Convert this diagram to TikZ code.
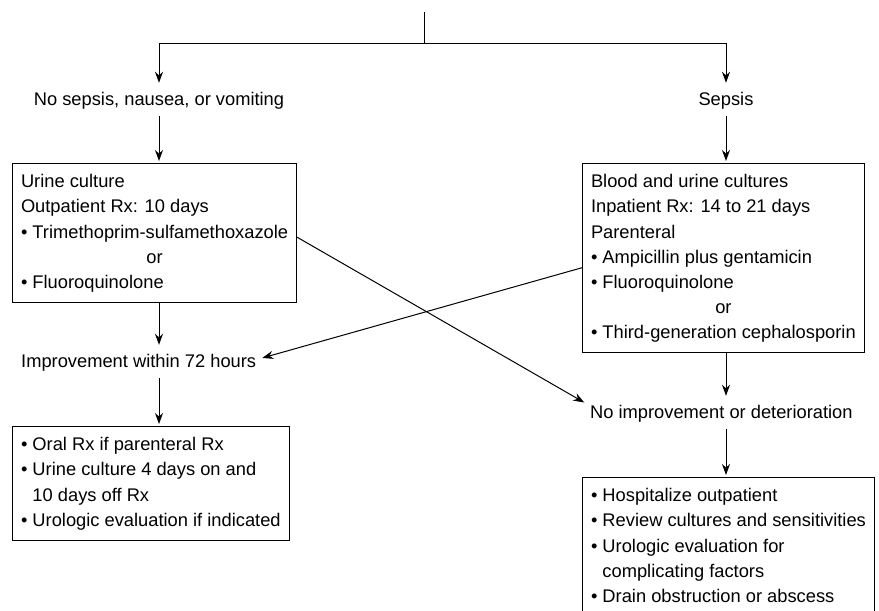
\documentclass[tikz,border=0pt]{standalone}
\usepackage{fontspec}
\setmainfont{Liberation Sans}
\usepackage{tikz}
\usetikzlibrary{positioning}
\usetikzlibrary{calc,arrows.meta}

\newcommand{\bul}{\textbullet\ }
\newcommand{\hang}{\phantom{\textbullet\ }}

\begin{document}
\begin{tikzpicture}[x=1pt,y=-1pt,
    every node/.style={font=\fontsize{18.3}{25.2}\selectfont},
    lbl/.style={inner xsep=4pt,inner ysep=7pt,text height=13pt,text depth=4pt},
    box/.style={draw,line width=1pt,inner xsep=8.5pt,inner ysep=6.5pt},
    arr/.style={-{Stealth[length=11pt,width=8pt]},line width=1pt,shorten >=2pt}]

  \useasboundingbox (0,0) rectangle (879,611);
  \clip (0,0) rectangle (879,611);

  \coordinate (top) at (424,12);
  \coordinate (split) at (424,43);

  \node[lbl,anchor=base] (nosep) at (159,105) {No sepsis, nausea, or vomiting};
  \node[lbl,anchor=base] (sepsis) at (726,105) {Sepsis};

  \node[box,anchor=north west] (outpt) at (12,163) {\begin{tabular}{@{}l@{}}
      Urine culture\\
      Outpatient Rx: 10 days\\
      \bul Trimethoprim-sulfamethoxazole\\
      \multicolumn{1}{@{}c@{}}{or}\\
      \bul Fluoroquinolone
    \end{tabular}};
  \node[box,anchor=north west] (inpt) at (582,163) {\begin{tabular}{@{}l@{}}
      Blood and urine cultures\\
      Inpatient Rx: 14 to 21 days\\
      Parenteral\\
      \bul Ampicillin plus gentamicin\\
      \bul Fluoroquinolone\\
      \multicolumn{1}{@{}c@{}}{or}\\
      \bul Third-generation cephalosporin
    \end{tabular}};

  \node[lbl,anchor=base west] (impr) at (17,367) {Improvement within 72 hours};
  \node[lbl,anchor=base west] (nimp) at (586,418) {No improvement or deterioration};

  \node[box,anchor=north west] (follow) at (12,426) {\begin{tabular}{@{}l@{}}
      \bul Oral Rx if parenteral Rx\\
      \bul Urine culture 4 days on and\\
      \hang 10 days off Rx\\
      \bul Urologic evaluation if indicated
    \end{tabular}};
  \node[box,anchor=north west] (hosp) at (582,477) {\begin{tabular}{@{}l@{}}
      \bul Hospitalize outpatient\\
      \bul Review cultures and sensitivities\\
      \bul Urologic evaluation for\\
      \hang complicating factors\\
      \bul Drain obstruction or abscess
    \end{tabular}};

  \draw[line width=1pt] (top) -- (split);
  \draw[arr] (split) -| (nosep.north);
  \draw[arr] (split) -| (sepsis.north);
  \draw[arr] (nosep.south) -- (nosep.south |- outpt.north);
  \draw[arr] (sepsis.south) -- (sepsis.south |- inpt.north);
  \draw[arr] (outpt.south -| nosep.south) -- (nosep.south |- impr.north);
  \draw[arr] (impr.south -| nosep.south) -- (nosep.south |- follow.north);
  \draw[arr] (inpt.south -| sepsis.south) -- (sepsis.south |- nimp.north);
  \draw[arr] (nimp.south -| sepsis.south) -- (sepsis.south |- hosp.north);
  \draw[arr] ($(outpt.north east)!0.53!(outpt.south east)$) -- ($(nimp.west)+(0,-10)$);
  \draw[arr] ($(inpt.north west)!0.55!(inpt.south west)$) -- ($(impr.east)+(0,-4)$);
\end{tikzpicture}
\end{document}
